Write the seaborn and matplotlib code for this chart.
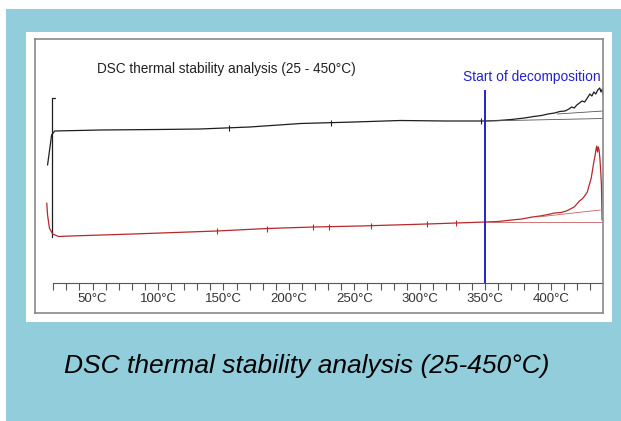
import numpy as np
import pandas as pd
import seaborn as sns
import matplotlib.pyplot as plt
from matplotlib.patches import Rectangle
from matplotlib.ticker import FixedLocator

# temperature (°C) and heat flow (arbitrary units)
black_temp = [15.6, 18.7, 21, 56, 100, 132, 170, 209, 250, 285, 320, 350,
              360, 370, 380, 387, 393, 398, 403, 407, 411, 414, 416, 418,
              420, 422, 424, 426, 428, 430, 431.5, 433, 434.5, 436, 437.5,
              438.5, 439.5, 440]
black_flow = [148, 178, 182, 183, 183.5, 184, 186, 189.5, 191, 192.5, 192, 192,
              192.5, 193.5, 195, 196.5, 197.5, 199, 200, 201.5, 202, 204, 206, 205,
              208, 210, 212, 211, 215, 219, 217, 221, 219, 223, 225,
              221, 224, 218]
bracket_temp = [21.5, 18.7, 18.7]
bracket_flow = [215, 215, 76]

red_temp = [15, 15.6, 17, 19.5, 24, 33, 81, 145, 183.5, 219, 254.5, 305.7, 350,
            360, 370, 378, 386, 392, 398, 403, 408, 412, 415, 418, 420, 422,
            424, 426, 428, 429.5, 431, 432, 433, 434, 434.6, 435.2, 435.8,
            436.4, 437, 437.6, 438.2, 438.8, 439.3]
red_flow = [110, 98, 85, 79, 76.5, 77, 79, 82, 84.5, 86, 87, 89, 91,
            91.5, 93, 94, 96, 97, 98.5, 100, 100.5, 102, 104, 106, 109, 112,
            114, 117, 121, 128, 135, 143, 151, 158, 163, 167, 161,
            166, 163, 155, 143, 128, 93]

# baselines / tangents drawn by the instrument software
black_base_temp = [350, 440]
black_base_flow = [192, 194.5]
black_tan_temp = [405, 440]
black_tan_flow = [199, 202]
red_base_temp = [350, 440]
red_base_flow = [91, 91]
red_tan_temp = [390, 438]
red_tan_flow = [96, 103]

# small event marks along the traces
red_mark_temp = [145, 183.5, 218.5, 231, 263, 305.7, 328]
red_mark_flow = [82, 84.5, 86, 86, 87, 89, 90]
black_mark_temp = [154, 232, 347]
black_mark_flow = [185, 190, 192]

decomp_temp = 350
decomp_flow = [30, 223]

major_ticks = [50, 100, 150, 200, 250, 300, 350, 400]
minor_ticks = list(range(20, 440, 10))
tick_labels = [f"{t}°C" for t in major_ticks]

sns.set_style("white")
plt.rcParams['font.family'] = ['Liberation Sans', 'DejaVu Sans']

fig = plt.figure(figsize=(6.21, 4.21), dpi=100)
fig.patch.set_facecolor('white')
fig.patches.append(Rectangle((6 / 621, 0), 1, 1 - 9 / 421, transform=fig.transFigure,
                             facecolor='#92CDDC', edgecolor='none', zorder=-5))
fig.patches.append(Rectangle((26 / 621, 1 - 322 / 421), 586 / 621, 290 / 421,
                             transform=fig.transFigure, facecolor='white',
                             edgecolor='none', zorder=-4))

ax = fig.add_axes([35 / 621, 1 - 313 / 421, 568 / 621, 274 / 421])
ax.set_facecolor('white')

sns.lineplot(x=black_temp, y=black_flow, ax=ax, color='#1e1e1e', lw=0.9,
             sort=False, estimator=None)
sns.lineplot(x=bracket_temp, y=bracket_flow, ax=ax, color='#1e1e1e', lw=0.9,
             sort=False, estimator=None)
sns.lineplot(x=red_temp, y=red_flow, ax=ax, color='#b8282a', lw=0.9,
             sort=False, estimator=None)
sns.lineplot(x=black_base_temp, y=black_base_flow, ax=ax, color='#555555', lw=0.6,
             sort=False, estimator=None)
sns.lineplot(x=black_tan_temp, y=black_tan_flow, ax=ax, color='#555555', lw=0.6,
             sort=False, estimator=None)
sns.lineplot(x=red_base_temp, y=red_base_flow, ax=ax, color='#c86060', lw=0.6,
             sort=False, estimator=None)
sns.lineplot(x=red_tan_temp, y=red_tan_flow, ax=ax, color='#c86060', lw=0.6,
             sort=False, estimator=None)
ax.plot(red_mark_temp, red_mark_flow, ls='none', marker='|', ms=5, mew=0.8, color='#b8282a')
ax.plot(black_mark_temp, black_mark_flow, ls='none', marker='|', ms=5, mew=0.8, color='#1e1e1e')

ax.vlines(decomp_temp, decomp_flow[0], decomp_flow[1], color='#2222cc', lw=1.4)
ax.text(0.995, 0.861, "Start of decomposition", transform=ax.transAxes,
        ha='right', va='center', fontsize=9.9, color='#2222cc')
ax.text(0.109, 0.89, "DSC thermal stability analysis (25 - 450°C)", transform=ax.transAxes,
        ha='left', va='center', fontsize=9.8, color='#222222')

ax.set_xlim(6, 440)
ax.set_ylim(0, 274)
ax.set_xticks([])
ax.set_yticks([])
for s in ax.spines.values():
    s.set_visible(True)
    s.set_color('#8a8a8a')
    s.set_linewidth(1.2)

# temperature ruler inside the frame
sec = ax.secondary_xaxis(30 / 274)
sec.set_xticks(major_ticks)
sec.set_xticklabels(tick_labels)
sec.xaxis.set_minor_locator(FixedLocator(minor_ticks))
sec.tick_params(which='both', direction='out', length=5, width=0.8, color='#555555',
                labelsize=9.5, labelcolor='#333333', pad=2)
sec.spines['bottom'].set_bounds(20, 440)
sec.spines['bottom'].set_color('#555555')
sec.spines['bottom'].set_linewidth(0.8)

fig.text(307 / 621, 1 - 366 / 421, "DSC thermal stability analysis (25-450°C)",
         ha='center', va='center', fontsize=19, style='italic', color='black')

fig.savefig('out.png', dpi=100)
